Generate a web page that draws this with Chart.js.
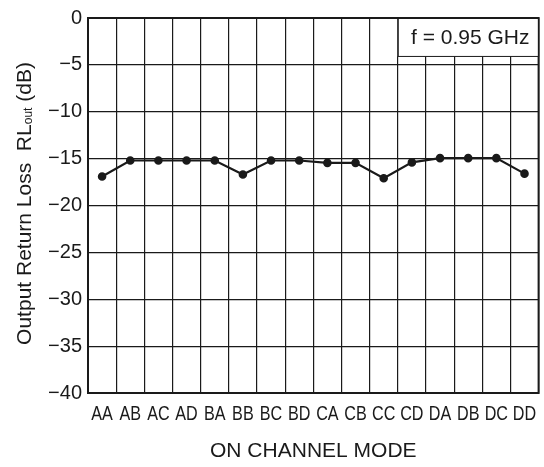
<!DOCTYPE html>
<html lang="en">
<head>
    <meta charset="UTF-8">
    <title>Output Return Loss vs ON Channel Mode</title>
    <script src="https://cdn.jsdelivr.net/npm/chart.js"></script>
    <style>
        body { margin: 0; background: #fff; }
        .chart-box { width: 544px; height: 467px; }
    </style>
</head>
<body>
    <div class="chart-box">
        <canvas id="rlChart"></canvas>
    </div>

    <script>
        // channel modes along the x axis
        var modes = ["AA", "AB", "AC", "AD", "BA", "BB", "BC", "BD",
                     "CA", "CB", "CC", "CD", "DA", "DB", "DC", "DD"];
        // output return loss, dB
        var rlOut = [-16.9, -15.2, -15.2, -15.2, -15.2, -16.7, -15.2, -15.2,
                     -15.45, -15.45, -17.1, -15.4, -14.95, -14.95, -14.95, -16.6];
        var yMin = -40, yMax = 0, yStep = 5;
        var noteText = "f = 0.95 GHz";

        var FONT = "'Liberation Sans', Arial, sans-serif";

        // y title with subscript, boxed frequency note, heavy frame, condensed x labels
        var decorations = {
            id: "decorations",
            afterDraw: function (chart) {
                var ctx = chart.ctx, area = chart.chartArea;
                var x = chart.scales.x, y = chart.scales.y;

                ctx.save();
                ctx.fillStyle = "#1a1a1a";

                // x tick labels, squeezed like a condensed face
                ctx.font = "21px " + FONT;
                ctx.textAlign = "center";
                ctx.textBaseline = "top";
                x.getLabels().forEach(function (lab, i) {
                    ctx.save();
                    ctx.translate(x.getPixelForValue(i), area.bottom + 11);
                    ctx.scale(0.77, 1);
                    ctx.fillText(lab, 0, 0);
                    ctx.restore();
                });

                // frame
                ctx.strokeStyle = "#1a1a1a";
                ctx.lineWidth = 2;
                ctx.strokeRect(area.left, area.top, area.right - area.left, area.bottom - area.top);

                // note box in the upper right corner
                var bx = (x.getPixelForValue(10) + x.getPixelForValue(11)) / 2;
                var by = y.getPixelForValue(-4.1);
                ctx.fillStyle = "#fff";
                ctx.fillRect(bx, area.top + 1, area.right - bx - 1, by - area.top - 1);
                ctx.lineWidth = 1;
                ctx.strokeRect(bx + 0.5, area.top, area.right - bx - 0.5, by - area.top);
                ctx.fillStyle = "#1a1a1a";
                ctx.font = "21px " + FONT;
                ctx.textAlign = "center";
                ctx.textBaseline = "middle";
                ctx.fillText(noteText, (bx + area.right) / 2 + 2, (area.top + by) / 2 + 1);

                // rotated y-axis title
                ctx.translate(25, (area.top + area.bottom) / 2 - 2);
                ctx.rotate(-Math.PI / 2);
                ctx.textBaseline = "middle";
                ctx.textAlign = "left";
                var big = "21px " + FONT, small = "12px " + FONT;
                var parts = [["Output Return Loss  RL", big, 0], ["out", small, 4], [" (dB)", big, 0]];
                var total = 0;
                parts.forEach(function (p) { ctx.font = p[1]; total += ctx.measureText(p[0]).width; });
                var cx = -total / 2;
                parts.forEach(function (p) {
                    ctx.font = p[1];
                    ctx.fillText(p[0], cx, p[2]);
                    cx += ctx.measureText(p[0]).width;
                });
                ctx.restore();
            }
        };

        document.addEventListener("DOMContentLoaded", function () {
            new Chart(document.getElementById("rlChart").getContext("2d"), {
                type: "line",
                data: {
                    labels: modes,
                    datasets: [{
                        data: rlOut,
                        borderColor: "#1a1a1a",
                        backgroundColor: "#1a1a1a",
                        borderWidth: 2.2,
                        pointRadius: 3.2,
                        pointHoverRadius: 3.2,
                        tension: 0
                    }]
                },
                options: {
                    responsive: true,
                    maintainAspectRatio: false,
                    animation: false,
                    layout: { padding: { left: 0, right: 3, top: 15, bottom: 0 } },
                    plugins: { legend: { display: false }, tooltip: { enabled: false } },
                    scales: {
                        x: {
                            type: "category",
                            offset: true,
                            grid: { offset: true, color: "#1a1a1a", lineWidth: 1.2, drawTicks: false },
                            border: { display: false },
                            ticks: { display: false },
                            title: {
                                display: true,
                                text: "ON CHANNEL MODE",
                                color: "#1a1a1a",
                                padding: { top: 0, bottom: 3 },
                                font: { family: FONT, size: 21 }
                            },
                            afterFit: function (scale) { scale.height = 74; }
                        },
                        y: {
                            min: yMin,
                            max: yMax,
                            grid: { color: "#1a1a1a", lineWidth: 1.2, drawTicks: false },
                            border: { display: false },
                            ticks: {
                                stepSize: yStep,
                                color: "#1a1a1a",
                                padding: 6,
                                font: { family: FONT, size: 20 },
                                callback: function (v) { return String(v).replace("-", "\u2212"); }
                            },
                            afterFit: function (scale) { scale.width = 88; }
                        }
                    }
                },
                plugins: [decorations]
            });
        });
    </script>
</body>
</html>
